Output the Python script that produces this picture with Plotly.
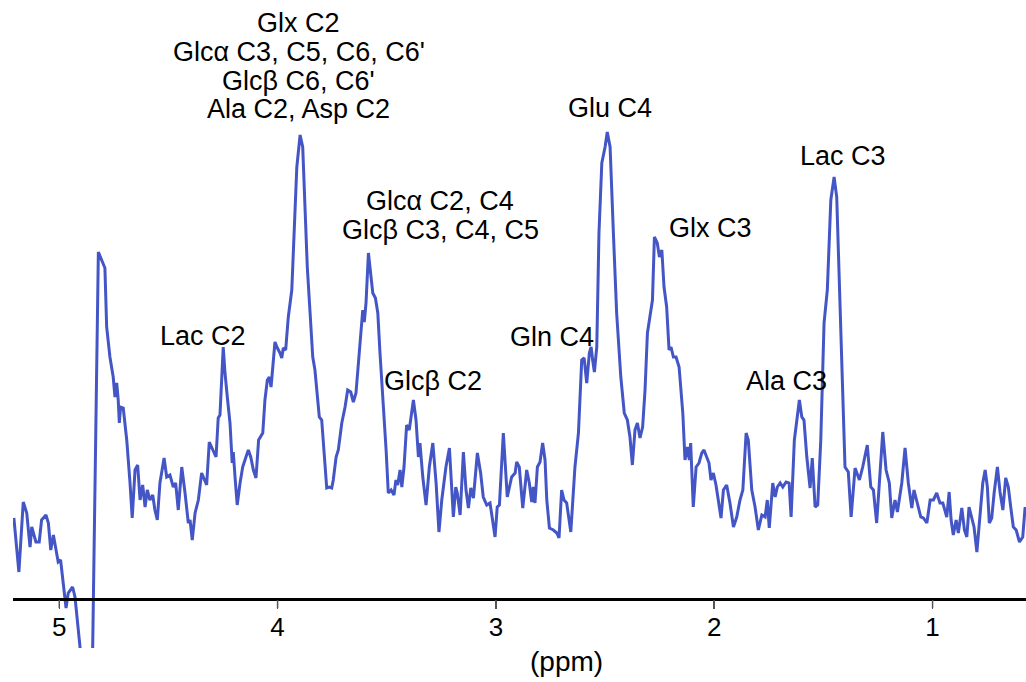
import plotly.graph_objects as go

# Chemical shift (ppm) and signal intensity (a.u.)
ppm = [5.208, 5.185, 5.165, 5.149, 5.134, 5.126, 5.107, 5.092, 5.081, 5.061, 5.050, 5.039, 5.027, 5.015, 5.005,
       4.994, 4.982, 4.969, 4.959, 4.948, 4.939, 4.928, 4.905, 4.878, 4.847,
       4.821, 4.806, 4.791, 4.783, 4.768, 4.753, 4.745, 4.737, 4.730, 4.725, 4.719, 4.707, 4.691, 4.676, 4.666,
       4.653, 4.641, 4.630, 4.618, 4.607, 4.597, 4.585, 4.572, 4.562, 4.551, 4.539, 4.520, 4.508, 4.493, 4.478,
       4.467, 4.455, 4.439, 4.424, 4.409, 4.401, 4.391, 4.378, 4.363, 4.348, 4.337, 4.325, 4.313, 4.295, 4.282,
       4.272, 4.264, 4.249, 4.241, 4.229, 4.218, 4.208, 4.203, 4.195, 4.185, 4.172, 4.160, 4.145, 4.134, 4.123,
       4.111, 4.099, 4.087, 4.068, 4.058, 4.047, 4.038, 4.030, 4.022, 4.012, 4.001, 3.989, 3.981, 3.974, 3.963,
       3.951, 3.935, 3.925, 3.912, 3.897, 3.885, 3.874, 3.864, 3.852, 3.839, 3.829, 3.818, 3.809, 3.798, 3.787,
       3.775, 3.763, 3.752, 3.745, 3.732, 3.722, 3.706, 3.691, 3.679, 3.665, 3.653, 3.641, 3.630, 3.619, 3.610,
       3.603, 3.595, 3.584, 3.574, 3.564, 3.552, 3.541, 3.531, 3.516, 3.503, 3.493, 3.480, 3.467, 3.458, 3.450,
       3.439, 3.431, 3.421, 3.409, 3.397, 3.378, 3.366, 3.355, 3.348, 3.335, 3.320, 3.305, 3.289, 3.274, 3.261,
       3.248, 3.229, 3.213, 3.202, 3.195, 3.184, 3.177, 3.164, 3.157, 3.149, 3.137, 3.126, 3.115, 3.103, 3.085,
       3.070, 3.058, 3.042, 3.027, 3.015, 3.004, 2.994, 2.984, 2.966, 2.948, 2.928, 2.912, 2.905, 2.893, 2.877,
       2.859, 2.847, 2.836, 2.829, 2.821, 2.810, 2.798, 2.786, 2.775, 2.767, 2.755, 2.737, 2.721, 2.711, 2.699,
       2.688, 2.676, 2.657, 2.638, 2.622, 2.607, 2.596, 2.584, 2.572, 2.564, 2.557, 2.549, 2.538, 2.528, 2.515,
       2.500, 2.490, 2.477, 2.462, 2.447, 2.428, 2.412, 2.398, 2.386, 2.375, 2.363, 2.352, 2.340, 2.328, 2.317,
       2.306, 2.294, 2.283, 2.274, 2.261, 2.251, 2.240, 2.230, 2.218, 2.207, 2.198, 2.187, 2.175, 2.161, 2.144,
       2.134, 2.123, 2.114, 2.108, 2.096, 2.083, 2.070, 2.057, 2.047, 2.034, 2.024, 2.015, 2.004, 1.992, 1.981,
       1.969, 1.958, 1.943, 1.928, 1.912, 1.897, 1.882, 1.869, 1.854, 1.844, 1.828, 1.813, 1.798, 1.782, 1.767,
       1.757, 1.748, 1.732, 1.721, 1.711, 1.698, 1.686, 1.671, 1.657, 1.648, 1.633, 1.610, 1.599, 1.589, 1.576,
       1.561, 1.551, 1.538, 1.526, 1.512, 1.497, 1.482, 1.466, 1.451, 1.439, 1.427, 1.411, 1.401, 1.386, 1.373,
       1.355, 1.335, 1.320, 1.299, 1.283, 1.271, 1.256, 1.240, 1.228, 1.213, 1.198, 1.187, 1.172, 1.161, 1.141,
       1.126, 1.111, 1.095, 1.085, 1.070, 1.054, 1.042, 1.026, 1.011, 0.996, 0.981, 0.966, 0.953, 0.935, 0.924,
       0.915, 0.905, 0.892, 0.882, 0.866, 0.854, 0.843, 0.833, 0.820, 0.810, 0.797, 0.782, 0.770, 0.759, 0.749,
       0.740, 0.729, 0.718, 0.703, 0.691, 0.678, 0.665, 0.653, 0.642, 0.630, 0.617, 0.602, 0.587, 0.576]

intensity = [81, 27, 97, 86, 52, 72, 57, 57, 79, 84, 76, 49, 64, 49, 37,
             39, 16, -9, 6, 9, 12, 2, -48, -200, -48,
             347, 339, 331, 272, 242, 222, 202, 216, 199, 176, 192, 191, 159, 116, 81,
             129, 134, 99, 114, 92, 109, 99, 104, 89, 79, 116, 141, 122, 124, 112,
             116, 89, 132, 106, 76, 79, 59, 86, 99, 126, 121, 114, 157, 149, 142,
             181, 184, 252, 226, 199, 176, 136, 147, 122, 94, 116, 132, 142, 149, 142,
             129, 121, 159, 166, 199, 219, 222, 212, 232, 257, 251, 246, 241, 251, 249,
             282, 309, 366, 432, 464, 452, 389, 332, 289, 242, 229, 202, 182, 179, 146,
             111, 112, 111, 119, 142, 149, 176, 192, 209, 207, 197, 206, 239, 269, 289,
             277, 296, 346, 322, 306, 301, 286, 246, 199, 149, 106, 109, 104, 119, 114,
             129, 112, 132, 174, 169, 199, 179, 142, 156, 122, 94, 132, 156, 116, 67,
             99, 132, 151, 112, 82, 112, 106, 84, 114, 147, 109, 91, 111, 101, 146,
             126, 102, 94, 96, 79, 62, 92, 94, 166, 102, 122, 126, 137, 132, 91,
             129, 116, 97, 112, 96, 132, 137, 156, 139, 99, 71, 69, 66, 61, 109,
             99, 96, 67, 132, 166, 239, 241, 216, 246, 252, 239, 227, 252, 366, 436,
             452, 467, 452, 366, 286, 222, 186, 179, 162, 134, 169, 176, 161, 172, 209,
             266, 286, 299, 362, 356, 342, 349, 312, 292, 249, 252, 242, 242, 232, 186,
             139, 152, 139, 156, 92, 132, 136, 146, 149, 142, 136, 119, 126, 114, 99,
             81, 109, 114, 96, 72, 82, 99, 109, 166, 159, 109, 92, 69, 84, 82,
             99, 71, 116, 102, 112, 116, 112, 117, 116, 82, 159, 199, 182, 179, 142,
             111, 141, 92, 94, 159, 276, 309, 399, 422, 402, 312, 189, 132, 127, 82,
             131, 119, 132, 154, 112, 109, 76, 132, 167, 129, 116, 81, 99, 87, 116,
             151, 116, 91, 109, 96, 82, 81, 76, 99, 99, 106, 96, 96, 82, 107,
             79, 64, 79, 66, 91, 69, 62, 92, 82, 72, 47, 89, 116, 129, 112,
             76, 81, 106, 132, 107, 89, 121, 112, 92, 72, 69, 57, 62, 92]

tick_vals = [5, 4, 3, 2, 1]
tick_text = ["5", "4", "3", "2", "1"]

# Peak labels: text lines and their (ppm, intensity) anchor
label_text = ["Glx C2", "Glcα C3, C5, C6, C6'", "Glcβ C6, C6'", "Ala C2, Asp C2",
              "Glcα C2, C4", "Glcβ C3, C4, C5", "Lac C2", "Glcβ C2",
              "Glu C4", "Glx C3", "Gln C4", "Ala C3", "Lac C3"]
label_ppm = [3.904, 3.904, 3.904, 3.904,
             3.256, 3.256, 4.344, 3.288,
             2.477, 2.015, 2.741, 1.671, 1.410]
label_int = [576, 547, 518, 490,
             398, 369, 263, 218,
             491, 371, 262, 218, 443]

FONT = "Liberation Sans, Arial, Helvetica, sans-serif"

fig = go.Figure()
fig.add_trace(go.Scatter(x=ppm, y=intensity, mode="lines",
                         line=dict(color="#4456c6", width=3), hoverinfo="skip"))

# small tick marks below the baseline axis at each labelled ppm value
for v in tick_vals:
    fig.add_shape(type="line", xref="x", yref="y", x0=v, x1=v, y0=-1, y1=-9,
                  line=dict(color="#555", width=1.5))

for t, xv, yv in zip(label_text, label_ppm, label_int):
    fig.add_annotation(x=xv, y=yv, xref="x", yref="y", text=t, showarrow=False,
                       xanchor="center", yanchor="middle",
                       font=dict(family=FONT, size=27, color="black"))

fig.add_annotation(x=2.679, y=-0.0216, xref="x", yref="paper", text="(ppm)", showarrow=False,
                   xanchor="center", yanchor="middle",
                   font=dict(family=FONT, size=28, color="black"))

fig.update_layout(
    width=1026, height=682,
    margin=dict(l=13, r=0, t=0, b=34),
    paper_bgcolor="white", plot_bgcolor="white",
    showlegend=False,
    xaxis=dict(range=[5.212, 0.572], tickvals=tick_vals, ticktext=tick_text,
               showgrid=False, zeroline=False, showline=True, linecolor="black", linewidth=2.5,
               ticks="outside", ticklen=8, tickwidth=1.5, tickcolor="#555",
               ticklabelstandoff=-4,
               anchor="free", position=49 / 648,
               tickfont=dict(family=FONT, size=26, color="black")),
    yaxis=dict(range=[-49, 599], visible=False, showgrid=False, zeroline=False),
)

fig.write_html("out.html", config={"displayModeBar": False, "staticPlot": True},
               post_script="document.body.style.margin='0px';")
